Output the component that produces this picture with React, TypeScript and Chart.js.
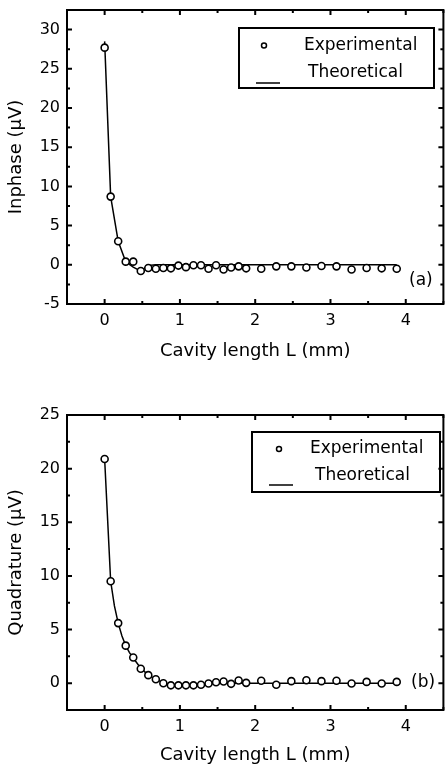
import React, { useEffect, useRef } from "react";
import { Chart, registerables } from "chart.js";

Chart.register(...registerables);

// ---------- data ----------
const X_EXP = [0, 0.08, 0.18, 0.28, 0.38, 0.48, 0.58, 0.68, 0.78, 0.88, 0.98, 1.08, 1.18, 1.28, 1.38, 1.48, 1.58, 1.68, 1.78, 1.88, 2.08, 2.28, 2.48, 2.68, 2.88, 3.08, 3.28, 3.48, 3.68, 3.88];
const INPHASE_EXP = [27.7, 8.7, 3.0, 0.4, 0.4, -0.8, -0.4, -0.5, -0.4, -0.45, -0.1, -0.3, -0.05, -0.05, -0.5, -0.05, -0.6, -0.35, -0.2, -0.45, -0.5, -0.2, -0.2, -0.35, -0.15, -0.2, -0.6, -0.4, -0.45, -0.5];
const QUAD_EXP = [20.9, 9.5, 5.6, 3.5, 2.4, 1.35, 0.75, 0.37, 0.0, -0.2, -0.2, -0.2, -0.2, -0.15, -0.03, 0.09, 0.16, -0.06, 0.25, 0.03, 0.22, -0.15, 0.19, 0.28, 0.19, 0.22, -0.03, 0.12, -0.03, 0.12];

const INPHASE_TH_X = [0, 0.08, 0.18, 0.28, 0.38, 0.48, 0.58, 0.68, 3.88];
const INPHASE_TH_Y = [28.5, 8.7, 3.0, 0.4, -0.3, -0.8, -0.1, 0, 0];
const QUAD_TH_X = [0, 0.08, 0.13, 0.18, 0.23, 0.28, 0.33, 0.38, 0.48, 0.58, 0.68, 0.78, 0.88, 0.98, 1.08, 1.18, 1.28, 1.38, 1.48, 1.6, 3.88];
const QUAD_TH_Y = [20.9, 9.5, 7.2, 5.6, 4.4, 3.5, 2.85, 2.35, 1.4, 0.75, 0.35, 0.05, -0.12, -0.17, -0.17, -0.14, -0.1, -0.06, -0.03, 0, 0];

const X_TICKS = [0, 1, 2, 3, 4];
const X_MINOR = [-0.5, 0.5, 1.5, 2.5, 3.5, 4.5];
const INPHASE_TICKS = [-5, 0, 5, 10, 15, 20, 25, 30];
const INPHASE_MINOR = [-2.5, 2.5, 7.5, 12.5, 17.5, 22.5, 27.5, 32.5];
const QUAD_TICKS = [0, 5, 10, 15, 20, 25];
const QUAD_MINOR = [-2.5, 2.5, 7.5, 12.5, 17.5, 22.5];

const X_TITLE = "Cavity length L (mm)";
const LABEL_EXP = "Experimental";
const LABEL_TH = "Theoretical";

const FONT = "'DejaVu Sans', sans-serif";

const toPts = (xs: number[], ys: number[]) => xs.map((x, i) => ({ x, y: ys[i] }));

const framePlugin = {
  id: "frame",
  afterDatasetsDraw(chart: any, _args: any, opts: any) {
    const { ctx, chartArea: a, scales } = chart;
    const xs = scales.x;
    const ys = scales.y;
    ctx.save();
    ctx.strokeStyle = "#000";
    ctx.lineWidth = 2;
    ctx.strokeRect(a.left, a.top, a.right - a.left, a.bottom - a.top);
    const drawX = (vals: number[], len: number) => {
      vals.forEach((v) => {
        const p = xs.getPixelForValue(v);
        ctx.beginPath();
        ctx.moveTo(p, a.bottom);
        ctx.lineTo(p, a.bottom - len);
        ctx.moveTo(p, a.top);
        ctx.lineTo(p, a.top + len);
        ctx.stroke();
      });
    };
    const drawY = (vals: number[], len: number) => {
      vals.forEach((v) => {
        const p = ys.getPixelForValue(v);
        ctx.beginPath();
        ctx.moveTo(a.left, p);
        ctx.lineTo(a.left + len, p);
        ctx.moveTo(a.right, p);
        ctx.lineTo(a.right - len, p);
        ctx.stroke();
      });
    };
    drawX(opts.xMajor, 5);
    drawX(opts.xMinor, 3);
    drawY(opts.yMajor, 5);
    drawY(opts.yMinor, 3);

    // legend box
    const L = opts.legend;
    ctx.lineWidth = 2;
    ctx.strokeRect(L.box[0], L.box[1], L.box[2] - L.box[0], L.box[3] - L.box[1]);
    ctx.lineWidth = 1.5;
    ctx.fillStyle = "#fff";
    ctx.beginPath();
    ctx.arc(L.circle[0], L.circle[1], 2.5, 0, Math.PI * 2);
    ctx.fill();
    ctx.stroke();
    ctx.beginPath();
    ctx.moveTo(L.line[0], L.line[2]);
    ctx.lineTo(L.line[1], L.line[2]);
    ctx.stroke();
    ctx.fillStyle = "#000";
    ctx.font = "17px " + FONT;
    ctx.textBaseline = "middle";
    ctx.textAlign = "left";
    ctx.fillText(chart.data.datasets[0].label, L.t1[0], L.t1[1]);
    ctx.fillText(chart.data.datasets[1].label, L.t2[0], L.t2[1]);
    // panel label
    ctx.fillText(opts.panel.text, opts.panel.x, opts.panel.y);
    ctx.restore();
  },
};

function buildConfig(
  expY: number[],
  thX: number[],
  thY: number[],
  yMin: number,
  yMax: number,
  yTicks: number[],
  yMinor: number[],
  yTitle: string,
  top: number,
  xAxisHeight: number,
  titlePadBottom: number,
  legend: any,
  panel: any
) {
  return {
    type: "scatter" as const,
    data: {
      datasets: [
        {
          label: LABEL_EXP,
          data: toPts(X_EXP, expY),
          showLine: false,
          pointRadius: 3.5,
          pointBorderWidth: 1.6,
          pointBackgroundColor: "#fff",
          pointBorderColor: "#000",
          order: 0,
        },
        {
          label: LABEL_TH,
          data: toPts(thX, thY),
          showLine: true,
          borderColor: "#000",
          borderWidth: 1.5,
          pointRadius: 0,
          tension: 0,
          order: 1,
        },
      ],
    },
    options: {
      animation: false,
      responsive: false,
      devicePixelRatio: 1,
      layout: { padding: { top, right: 1, left: 0, bottom: 0 } },
      plugins: {
        legend: { display: false },
        tooltip: { enabled: false },
        frame: {
          xMajor: X_TICKS,
          xMinor: X_MINOR,
          yMajor: yTicks,
          yMinor: yMinor,
          legend,
          panel,
        },
      },
      scales: {
        x: {
          type: "linear",
          min: -0.5,
          max: 4.5,
          grid: { display: false, drawTicks: false },
          border: { display: false },
          afterBuildTicks: (s: any) => {
            s.ticks = X_TICKS.map((v) => ({ value: v }));
          },
          afterFit: (s: any) => {
            s.height = xAxisHeight;
            s.paddingLeft = 0;
            s.paddingRight = 0;
          },
          ticks: {
            color: "#000",
            padding: 7,
            maxRotation: 0,
            font: { family: FONT, size: 16 },
            callback: (v: any) => String(v),
          },
          title: {
            display: true,
            text: X_TITLE,
            color: "#000",
            font: { family: FONT, size: 18 },
            padding: { top: 0, bottom: titlePadBottom },
          },
        },
        y: {
          type: "linear",
          min: yMin,
          max: yMax,
          grid: { display: false, drawTicks: false },
          border: { display: false },
          afterBuildTicks: (s: any) => {
            s.ticks = yTicks.map((v) => ({ value: v }));
          },
          afterFit: (s: any) => {
            s.width = 67;
            s.paddingTop = 0;
            s.paddingBottom = 0;
          },
          ticks: {
            color: "#000",
            padding: 7,
            font: { family: FONT, size: 16 },
            callback: (v: any) => String(v),
          },
          title: {
            display: true,
            text: yTitle,
            color: "#000",
            font: { family: FONT, size: 18 },
            padding: { top: 6, bottom: 0 },
          },
        },
      },
    },
    plugins: [framePlugin],
  };
}

function Panel({ cfg, top }: { cfg: any; top: number }) {
  const ref = useRef<HTMLCanvasElement | null>(null);
  useEffect(() => {
    if (!ref.current) return;
    const chart = new Chart(ref.current, cfg);
    return () => chart.destroy();
  }, []);
  return (
    <canvas
      ref={ref}
      width={449}
      height={385}
      style={{ position: "absolute", left: 0, top, width: 449, height: 385, display: "block" }}
    />
  );
}

export default function App() {
  const cfgA = buildConfig(
    INPHASE_EXP,
    INPHASE_TH_X,
    INPHASE_TH_Y,
    -5,
    32.5,
    INPHASE_TICKS,
    INPHASE_MINOR,
    "Inphase (\u03bcV)",
    10,
    81,
    23,
    { box: [239, 28, 434, 88], circle: [264, 45.5], line: [256, 280, 83], t1: [304, 45.5], t2: [308, 73] },
    { text: "(a)", x: 409, y: 281 }
  );
  const cfgB = buildConfig(
    QUAD_EXP,
    QUAD_TH_X,
    QUAD_TH_Y,
    -2.5,
    25,
    QUAD_TICKS,
    QUAD_MINOR,
    "Quadrature (\u03bcV)",
    30,
    60,
    4,
    { box: [252, 47, 440, 107], circle: [279, 64], line: [269, 293, 100], t1: [310, 64], t2: [315, 91] },
    { text: "(b)", x: 411, y: 298 }
  );
  return (
    <div style={{ position: "absolute", left: 0, top: 0, width: 447, height: 770, overflow: "hidden", background: "#fff" }}>
      <Panel cfg={cfgA} top={0} />
      <Panel cfg={cfgB} top={385} />
    </div>
  );
}
